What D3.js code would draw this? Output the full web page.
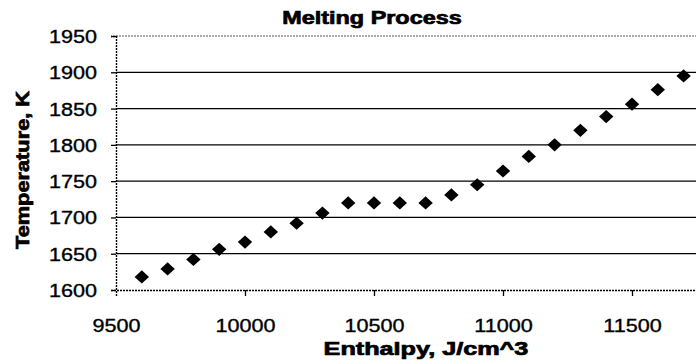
<!DOCTYPE html>
<html>
<head>
<meta charset="utf-8">
<script src="https://cdn.jsdelivr.net/npm/d3@7"></script>
<style>
  html, body { margin: 0; padding: 0; background: #fff; }
  svg { display: block; }
  text { font-family: "Liberation Sans", Arial, sans-serif; fill: #000; }
</style>
</head>
<body>
<svg id="chart" width="696" height="364"></svg>
<script>
// Enthalpy (J/cm^3) and temperature (K) samples of the melting run
const enthalpy = [9600, 9700, 9800, 9900, 10000, 10100, 10200, 10300, 10400, 10500, 10600,
                  10700, 10800, 10900, 11000, 11100, 11200, 11300, 11400, 11500, 11600, 11700];
const temperature = [1618, 1629, 1642, 1656, 1666, 1680, 1692, 1706, 1720, 1720, 1720,
                     1720, 1731, 1745, 1764, 1784, 1800, 1820, 1839, 1856, 1876, 1895];
const xTicks = [9500, 10000, 10500, 11000, 11500];
const yTicks = [1600, 1650, 1700, 1750, 1800, 1850, 1900, 1950];

const chartTitle = "Melting Process";
const xTitle = "Enthalpy, J/cm^3";
const yTitle = "Temperature, K";

const svg = d3.select("#chart");
const plotLeft = 116, plotTop = 36, plotBottom = 290, plotRight = 761;

const x = d3.scaleLinear().domain([9500, 12000]).range([plotLeft, plotRight]);
const y = d3.scaleLinear().domain([1600, 1950]).range([plotBottom, plotTop]);

// stretch a text element horizontally by a width factor
function widen(sel, factor) {
  sel.each(function () {
    const w = this.getComputedTextLength();
    d3.select(this).attr("textLength", w * factor).attr("lengthAdjust", "spacingAndGlyphs");
  });
}

// horizontal gridlines
svg.append("g")
  .selectAll("line")
  .data(yTicks.filter(t => t > 1600 && t < 1950))
  .join("line")
  .attr("x1", plotLeft).attr("x2", plotRight)
  .attr("y1", d => y(d)).attr("y2", d => y(d))
  .attr("stroke", "#000").attr("stroke-width", 1.3);

// top border (dotted)
svg.append("line")
  .attr("x1", plotLeft).attr("x2", plotRight)
  .attr("y1", y(1950)).attr("y2", y(1950))
  .attr("stroke", "#555").attr("stroke-width", 1).attr("stroke-dasharray", "2,1");

// y axis
const yAxis = svg.append("g")
  .attr("transform", `translate(${plotLeft},0)`)
  .call(d3.axisLeft(y).tickValues(yTicks).tickSize(5).tickPadding(14).tickFormat(d3.format("d")));
yAxis.select(".domain").attr("stroke", "#000").attr("stroke-width", 1.4).attr("stroke-dasharray", "2,1");
yAxis.selectAll(".tick line").attr("stroke", "#000").attr("stroke-width", 1.3);
yAxis.selectAll(".tick text")
  .attr("font-size", 18).attr("font-family", "Liberation Sans, Arial, sans-serif")
  .attr("x", -19).attr("dy", "0.36em")
  .attr("stroke", "#000").attr("stroke-width", 0.35)
  .call(widen, 1.2);

// x axis
const xAxis = svg.append("g")
  .attr("transform", `translate(0,${plotBottom})`)
  .call(d3.axisBottom(x).tickValues(xTicks).tickSize(6).tickPadding(23).tickFormat(d3.format("d")));
xAxis.select(".domain").attr("stroke", "#000").attr("stroke-width", 1.4).attr("stroke-dasharray", "2,1");
xAxis.selectAll(".tick line").attr("stroke", "#000").attr("stroke-width", 1.3);
xAxis.selectAll(".tick text")
  .attr("font-size", 18).attr("font-family", "Liberation Sans, Arial, sans-serif")
  .attr("stroke", "#000").attr("stroke-width", 0.35)
  .call(widen, 1.2);
xAxis.selectAll(".tick").filter(d => d === 9500).select("line").remove();

// diamond markers
const diamond = {
  draw(ctx) {
    const w = 7.2, h = 6.6;
    ctx.moveTo(0, -h); ctx.lineTo(w, 0); ctx.lineTo(0, h); ctx.lineTo(-w, 0); ctx.closePath();
  }
};
svg.append("g")
  .selectAll("path")
  .data(enthalpy.map((e, i) => [e, temperature[i]]))
  .join("path")
  .attr("transform", d => `translate(${x(d[0])},${y(d[1])})`)
  .attr("d", d3.symbol().type(diamond))
  .attr("fill", "#000");

// titles
const titleStyle = sel => sel
  .attr("text-anchor", "middle")
  .attr("font-size", 18).attr("font-weight", "bold")
  .attr("stroke", "#000").attr("stroke-width", 0.7);

svg.append("text")
  .attr("x", 372).attr("y", 24)
  .call(titleStyle)
  .text(chartTitle)
  .call(widen, 1.3);

svg.append("text")
  .attr("x", 426).attr("y", 355)
  .call(titleStyle)
  .text(xTitle)
  .call(widen, 1.4);

svg.append("text")
  .attr("transform", "translate(29,170) rotate(-90)")
  .call(titleStyle)
  .text(yTitle)
  .call(widen, 1.21);
</script>
</body>
</html>
